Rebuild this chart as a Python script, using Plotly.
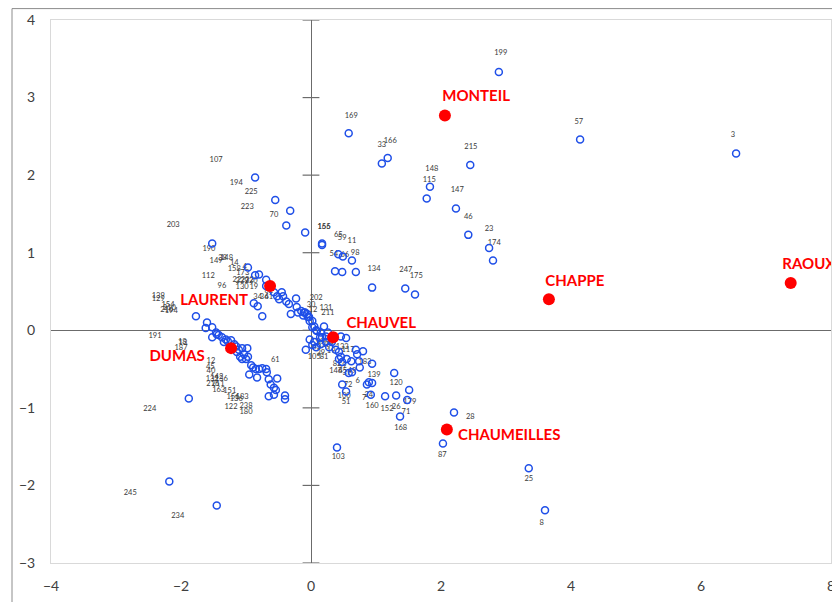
import plotly.graph_objects as go

# ---- blue individual points (factor coordinates) ----
pt_x = [2.89, 4.14, 6.54, 2.45, 1.18, 1.09, 0.58, 1.83, 1.78, 2.23, 2.42, 2.74, 2.80, 0.94, 1.45, 1.60,
        -0.09, 0.17, 0.17, 0.42, 0.49, 0.63, 0.37, 0.48, 0.69, -0.32, -0.55, -0.38, -0.86, -1.52,
        -0.97, -0.86, -0.80, -0.69, -0.69, -0.57, -0.45, -0.43, -0.52, -0.49, -0.38, -0.34, -0.88, -0.82,
        -0.75, -0.23, -0.31, -0.22, -0.15, -0.11, -0.06, -0.03, 0.02, 0.05, 0.08, -1.77,
        -0.20, -0.12, -0.09, -0.05, -0.02, 0.02, 0.09, 0.15, 0.20, 0.23, 0.17, 0.14, 0.26, 0.46, 0.54,
        -0.08, 0.05, 0.08, 0.15, 0.23, 0.28, 0.32, 0.38, 0.43, 0.46, 0.43, 0.48, 0.55, 0.62, 0.69, 0.71,
        0.80, 0.74, 0.94, 0.75, 0.48, 0.54, 0.86, 0.89, 0.94, 0.92, 1.28, 1.14, 1.31, 1.51, 1.48, 1.37,
        2.20, 2.03, 0.40, 3.35, 3.60, 0.63, 0.58, -0.02, 0.02,
        -1.60, -1.62, -1.52, -1.52, -1.46, -1.42, -1.37, -1.31, -1.28, -1.34, -1.15, -1.11, -1.06, -0.98,
        -1.14, -1.09, -1.06, -0.97, -0.92, -0.95, -0.89, -0.85, -0.80, -0.75, -0.69, -0.83, -0.68, -0.52,
        -0.65, -0.62, -0.57, -0.54, -0.65, -0.57, -0.40, -0.40, -1.88, -2.18, -1.45,
        -1.45, -1.18, -1.03, -1.00, -1.23]
pt_y = [3.33, 2.46, 2.28, 2.13, 2.22, 2.15, 2.54, 1.85, 1.70, 1.57, 1.23, 1.06, 0.90, 0.55, 0.54, 0.46,
        1.26, 1.10, 1.12, 0.98, 0.95, 0.90, 0.76, 0.75, 0.75, 1.54, 1.68, 1.35, 1.97, 1.12,
        0.81, 0.71, 0.72, 0.65, 0.57, 0.49, 0.49, 0.44, 0.44, 0.40, 0.37, 0.34, 0.35, 0.31,
        0.18, 0.41, 0.21, 0.30, 0.25, 0.23, 0.21, 0.17, 0.12, 0.05, 0.00, 0.18,
        0.23, 0.19, 0.23, 0.17, 0.12, 0.04, -0.01, -0.03, 0.05, -0.08, -0.09, -0.09, -0.03, -0.08, -0.10,
        -0.25, -0.15, -0.22, -0.18, -0.15, -0.22, -0.15, -0.25, -0.28, -0.34, -0.37, -0.41, -0.37, -0.40, -0.25, -0.31,
        -0.27, -0.40, -0.43, -0.48, -0.70, -0.79, -0.70, -0.67, -0.68, -0.83, -0.55, -0.85, -0.84, -0.77, -0.90, -1.11,
        -1.06, -1.46, -1.51, -1.78, -2.32, -0.54, -0.55, -0.12, -0.19,
        0.10, 0.03, 0.04, -0.09, -0.03, -0.06, -0.09, -0.12, -0.14, -0.15, -0.21, -0.25, -0.23, -0.23,
        -0.28, -0.34, -0.37, -0.34, -0.45, -0.57, -0.48, -0.50, -0.50, -0.49, -0.50, -0.61, -0.54, -0.62,
        -0.63, -0.70, -0.74, -0.77, -0.85, -0.83, -0.84, -0.89, -0.88, -1.95, -2.26,
        -0.05, -0.18, -0.31, -0.37, -0.13]

# ---- point number labels (as placed in the chart) ----
lab_text = ["199", "57", "3", "215", "169", "33", "166", "148", "115", "147", "46", "23", "174",
            "134", "247", "175", "166", "155", "65", "59", "11", "54", "66", "98", "202", "30", "12",
            "131", "211", "107", "194", "225", "223", "70", "203", "190", "149", "38", "148", "14",
            "158", "4", "173", "112", "96", "22", "229", "232", "220", "130", "19", "34", "36", "41", "62",
            "139", "129", "154", "216", "194", "210", "191", "18", "13", "187", "61", "12", "45", "40",
            "132", "142", "136", "216", "211", "163", "151", "156", "136", "183", "122", "238", "180",
            "224", "245", "234", "105", "43", "99", "138", "54", "39", "81", "19", "133", "117", "183",
            "82", "59", "146", "45", "37", "49", "139", "6", "72", "100", "51", "7", "24", "160",
            "120", "152", "26", "179", "71", "168", "28", "87", "103", "25", "8"]
lab_x = [2.92, 4.12, 6.49, 2.46, 0.62, 1.09, 1.22, 1.86, 1.82, 2.25, 2.42, 2.74, 2.82,
         0.97, 1.46, 1.62, 0.20, 0.20, 0.42, 0.48, 0.63, 0.35, 0.52, 0.68, 0.08, 0.00, 0.03,
         0.23, 0.26, -1.46, -1.15, -0.92, -0.98, -0.57, -2.12, -1.57, -1.46, -1.36, -1.30, -1.18,
         -1.18, -1.02, -1.05, -1.58, -1.37, -1.14, -1.06, -0.98, -0.92, -1.06, -0.88, -0.82, -0.72, -0.65, -0.65,
         -2.35, -2.35, -2.20, -2.22, -2.15, -2.18, -2.40, -1.98, -1.97, -2.00, -0.55, -1.54, -1.55, -1.54,
         -1.52, -1.45, -1.38, -1.51, -1.43, -1.42, -1.25, -1.20, -1.15, -1.06, -1.23, -1.00, -1.00,
         -2.48, -2.78, -2.05, 0.05, 0.09, 0.14, 0.20, 0.28, 0.15, 0.20, 0.31, 0.48, 0.57, 0.83,
         0.40, 0.48, 0.38, 0.49, 0.55, 0.63, 0.97, 0.72, 0.57, 0.51, 0.54, 0.82, 0.89, 0.94,
         1.31, 1.17, 1.31, 1.52, 1.46, 1.38, 2.45, 2.02, 0.42, 3.35, 3.55]
lab_y = [3.57, 2.68, 2.52, 2.36, 2.76, 2.39, 2.44, 2.08, 1.94, 1.81, 1.46, 1.30, 1.12,
         0.79, 0.77, 0.70, 1.33, 1.33, 1.23, 1.19, 1.15, 0.98, 0.97, 0.99, 0.41, 0.32, 0.26,
         0.28, 0.22, 2.19, 1.90, 1.78, 1.59, 1.48, 1.35, 1.05, 0.89, 0.93, 0.93, 0.86,
         0.79, 0.81, 0.74, 0.70, 0.57, 0.65, 0.63, 0.65, 0.63, 0.55, 0.55, 0.43, 0.43, 0.43, 0.50,
         0.44, 0.40, 0.32, 0.26, 0.25, 0.28, -0.08, -0.15, -0.16, -0.23, -0.39, -0.40, -0.48, -0.53,
         -0.63, -0.61, -0.63, -0.70, -0.70, -0.77, -0.79, -0.86, -0.89, -0.86, -0.99, -0.98, -1.05,
         -1.02, -2.10, -2.40, -0.34, -0.22, -0.15, -0.19, -0.17, -0.30, -0.35, -0.27, -0.22, -0.26, -0.41,
         -0.44, -0.46, -0.53, -0.53, -0.55, -0.53, -0.58, -0.65, -0.71, -0.85, -0.93, -0.88, -0.83, -0.98,
         -0.68, -1.01, -0.99, -0.92, -1.05, -1.26, -1.12, -1.61, -1.64, -1.92, -2.48]

# ---- named (red) points ----
name_text = ["MONTEIL", "CHAPPE", "RAOUX", "LAURENT", "CHAUVEL", "DUMAS", "CHAUMEILLES"]
name_x = [2.06, 3.66, 7.38, -0.63, 0.34, -1.23, 2.09]
name_y = [2.77, 0.40, 0.61, 0.57, -0.09, -0.23, -1.28]
name_lab_x = [2.54, 4.06, 7.66, -1.49, 1.08, -2.06, 3.05]
name_lab_y = [3.01, 0.62, 0.84, 0.37, 0.08, -0.35, -1.37]

# ---- axes ----
x_ticks = [-4, -2, 0, 2, 4, 6, 8]
y_ticks = [-3, -2, -1, 0, 1, 2, 3, 4]

AXIS_COL = "#6b6b6b"
fig = go.Figure()

fig.add_trace(go.Scatter(
    x=[0] * len(y_ticks), y=y_ticks, mode="markers", hoverinfo="skip",
    marker=dict(symbol="line-ew", size=12, line=dict(width=1.2, color=AXIS_COL)),
    cliponaxis=False, showlegend=False))

fig.add_trace(go.Scatter(
    x=lab_x, y=lab_y, mode="text", text=lab_text, textposition="middle center",
    textfont=dict(family="Lato", size=7.5, color="#3a3a3a"), cliponaxis=False, showlegend=False))

fig.add_trace(go.Scatter(
    x=pt_x, y=pt_y, mode="markers",
    marker=dict(symbol="circle-open", size=7, color="#1f4fe8", line=dict(width=1.5, color="#1f4fe8")),
    showlegend=False))

fig.add_trace(go.Scatter(
    x=name_x, y=name_y, mode="markers",
    marker=dict(symbol="circle", size=12, color="#ff0000"),
    showlegend=False))

fig.add_trace(go.Scatter(
    x=name_lab_x, y=name_lab_y, mode="text", text=name_text, textposition="middle center",
    textfont=dict(family="Lato", size=15, color="#ff0000", weight="bold"),
    cliponaxis=False, showlegend=False))

# page body has an 8px margin: the figure is sized to the visible part of the window
fig.update_layout(
    width=832, height=594,
    margin=dict(l=43, r=9, t=12, b=39),
    paper_bgcolor="white", plot_bgcolor="white",
    font=dict(family="Lato", size=14, color="#404040"),
    xaxis=dict(range=[-4, 8], tickvals=x_ticks, showgrid=False, automargin=False,
               zeroline=True, zerolinecolor=AXIS_COL, zerolinewidth=1.3,
               showline=True, mirror=True, linecolor="#d9d9d9", linewidth=1,
               ticks="", ticklabelstandoff=10, fixedrange=True),
    yaxis=dict(range=[-3, 4], tickvals=y_ticks, showgrid=False, automargin=False,
               zeroline=True, zerolinecolor=AXIS_COL, zerolinewidth=1.3,
               showline=True, mirror=True, linecolor="#d9d9d9", linewidth=1,
               ticks="", ticklabelstandoff=12, fixedrange=True),
    shapes=[dict(type="rect", xref="paper", yref="paper",
                 x0=-0.05, x1=1.03, y0=-0.12, y1=1.021,
                 line=dict(color="#8c8c8c", width=1), fillcolor="rgba(0,0,0,0)", layer="below")],
)

fig.write_html("out.html")
